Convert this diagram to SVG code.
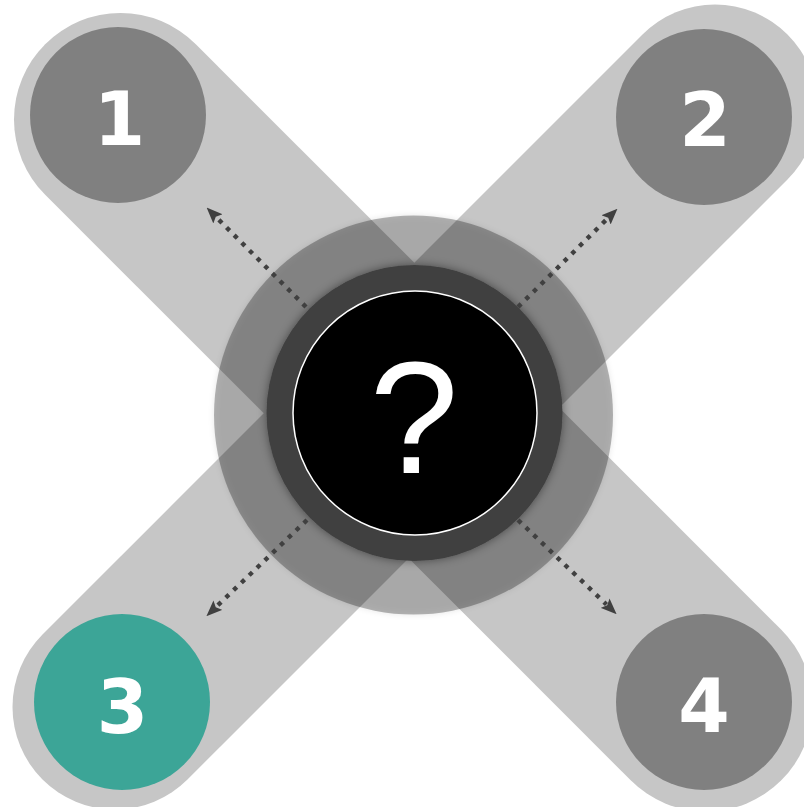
<svg xmlns="http://www.w3.org/2000/svg" width="804" height="807" viewBox="0 0 804 807">
  <style>
    .band { fill: none; stroke: #c6c6c6; stroke-linecap: round; }
    .num { fill: #808080; }
    .numtxt { fill: #ffffff; font-family: "DejaVu Sans", "Open Sans", sans-serif; font-weight: bold; font-size: 74px; text-anchor: middle; }
    .conn { fill: none; stroke: #404040; stroke-width: 4.4; stroke-dasharray: 4.4 6.4; marker-end: url(#arrow); }
  </style>
  <defs>
    <marker id="arrow" viewBox="0 0 16 13" refX="2" refY="6.5" markerWidth="16" markerHeight="13" markerUnits="userSpaceOnUse" orient="auto">
      <path d="M0,0 L16,6.5 L0,13 L3,6.5 Z" fill="#404040"/>
    </marker>
    <filter id="outerShadow" x="-20%" y="-20%" width="140%" height="140%">
      <feGaussianBlur in="SourceAlpha" stdDeviation="3" result="b"/>
      <feComposite in="b" in2="SourceAlpha" operator="out" result="o"/>
      <feComponentTransfer in="o" result="s"><feFuncA type="linear" slope="0.35"/></feComponentTransfer>
      <feMerge><feMergeNode in="s"/><feMergeNode in="SourceGraphic"/></feMerge>
    </filter>
    <filter id="ringShadow" x="-20%" y="-20%" width="140%" height="140%">
      <feDropShadow dx="0" dy="0" stdDeviation="5" flood-color="#000" flood-opacity="0.45"/>
    </filter>
  </defs>

  <g id="bands">
    <line class="band" x1="120.5" y1="119.5" x2="706" y2="705" stroke-width="213"/>
    <line class="band" x1="715" y1="107" x2="115" y2="707" stroke-width="205"/>
  </g>

  <g id="hub">
    <circle cx="413.5" cy="415" r="199.5" fill="#000" fill-opacity="0.29" filter="url(#outerShadow)"/>
    <circle cx="414.5" cy="413" r="148" fill="#404040" filter="url(#ringShadow)"/>
    <circle cx="415" cy="413" r="122" fill="#000" stroke="#fff" stroke-width="1.5"/>
    <text x="414" y="473" fill="#fff" font-family="'Liberation Sans', Arial, sans-serif" font-size="160" text-anchor="middle">?</text>
  </g>

  <g id="node1">
    <circle class="num" cx="118" cy="115" r="88"/>
    <text class="numtxt" x="119.5" y="145">1</text>
  </g>
  <g id="node2">
    <circle class="num" cx="704" cy="117" r="88"/>
    <text class="numtxt" x="705" y="146">2</text>
  </g>
  <g id="node3">
    <circle cx="122" cy="702" r="88" fill="#3ca597"/>
    <text class="numtxt" x="122.5" y="733">3</text>
  </g>
  <g id="node4">
    <circle class="num" cx="704" cy="702" r="88"/>
    <text class="numtxt" x="704" y="732">4</text>
  </g>

  <g id="connectors">
    <line class="conn" x1="306" y1="307" x2="216.5" y2="217.5"/>
    <line class="conn" x1="518" y1="307" x2="607.5" y2="218.5"/>
    <line class="conn" x1="307" y1="520" x2="216.5" y2="606.5"/>
    <line class="conn" x1="518" y1="520" x2="606.5" y2="604.5"/>
  </g>
</svg>
